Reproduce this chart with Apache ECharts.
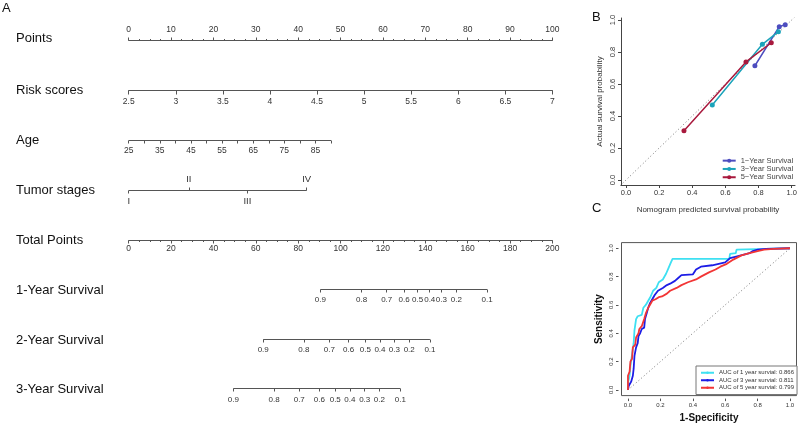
<!DOCTYPE html>
<html>
<head>
<meta charset="utf-8">
<script src="https://cdn.jsdelivr.net/npm/echarts@6.0.0/dist/echarts.min.js"></script>
<style>
html, body { margin: 0; padding: 0; background: #fff; }
#main { width: 798px; height: 425px; }
</style>
</head>
<body>
<div id="main"></div>
<script>
// ---------- data: nomogram (A) ----------
var rowNames = ['Points', 'Risk scores', 'Age', 'Tumor stages', 'Total Points',
                '1-Year Survival', '2-Year Survival', '3-Year Survival'];
var riskMin = 2.5, riskMax = 7;
var ageTicks = [25, 30, 35, 40, 45, 50, 55, 60, 65, 70, 75, 80, 85, 90];
var ageLabels = [25, 35, 45, 55, 65, 75, 85];
var agePointsAt90 = 47.75;          // points given to the oldest age (90)
var stageNames = ['I', 'II', 'III', 'IV'];
var stagePoints = [0, 14.2, 28.0, 42.0];
var survProbs = [0.9, 0.8, 0.7, 0.6, 0.5, 0.4, 0.3, 0.2, 0.1];
var surv1Total = [90.5, 109.9, 121.8, 130.0, 136.4, 142.1, 147.6, 154.7, 169.2];
var surv2Total = [63.5, 82.7, 94.7, 103.8, 111.7, 118.6, 125.4, 132.4, 142.2];
var surv3Total = [49.4, 68.6, 80.5, 90.0, 97.5, 104.4, 111.4, 118.3, 128.2];

// ---------- data: calibration (B) ----------
var calTicks = [0, 0.2, 0.4, 0.6, 0.8, 1.0];
var calNames = ['1\u2212Year Survival', '3\u2212Year Survival', '5\u2212Year Survival'];
var cal1Pred = [0.778, 0.925, 0.961], cal1Obs = [0.714, 0.958, 0.971];
var cal3Pred = [0.521, 0.823, 0.920], cal3Obs = [0.469, 0.848, 0.927];
var cal5Pred = [0.350, 0.724, 0.877], cal5Obs = [0.308, 0.738, 0.858];

// ---------- data: ROC (C) ----------
var rocTicks = [0, 0.2, 0.4, 0.6, 0.8, 1.0];
var aucYears = [1, 3, 5];
var aucValues = [0.866, 0.811, 0.799];
var roc1Fpr = [0, 0, 0.01, 0.015, 0.025, 0.035, 0.04, 0.05, 0.06, 0.085, 0.095, 0.11, 0.125, 0.14, 0.155, 0.175, 0.19, 0.215, 0.235, 0.25, 0.265, 0.275, 0.625, 0.63, 0.665, 0.67, 0.85, 1];
var roc1Tpr = [0, 0.05, 0.1, 0.17, 0.25, 0.33, 0.42, 0.5, 0.52, 0.53, 0.58, 0.6, 0.63, 0.66, 0.7, 0.72, 0.76, 0.78, 0.82, 0.86, 0.9, 0.925, 0.925, 0.96, 0.965, 0.99, 0.995, 1];
var roc3Fpr = [0, 0.005, 0.015, 0.02, 0.03, 0.035, 0.04, 0.05, 0.06, 0.065, 0.075, 0.085, 0.1, 0.105, 0.115, 0.125, 0.135, 0.15, 0.165, 0.185, 0.215, 0.24, 0.26, 0.29, 0.31, 0.33, 0.4, 0.42, 0.45, 0.52, 0.6, 0.63, 0.68, 0.75, 0.77, 0.8, 0.85, 1];
var roc3Tpr = [0, 0.03, 0.04, 0.06, 0.1, 0.15, 0.24, 0.3, 0.33, 0.38, 0.4, 0.43, 0.44, 0.5, 0.54, 0.58, 0.61, 0.64, 0.67, 0.7, 0.72, 0.74, 0.75, 0.77, 0.79, 0.81, 0.815, 0.85, 0.87, 0.88, 0.9, 0.93, 0.945, 0.965, 0.98, 0.99, 0.995, 1];
var roc5Fpr = [0, 0, 0.01, 0.015, 0.025, 0.03, 0.045, 0.05, 0.065, 0.07, 0.085, 0.1, 0.11, 0.125, 0.135, 0.15, 0.17, 0.19, 0.21, 0.24, 0.26, 0.3, 0.33, 0.37, 0.42, 0.45, 0.5, 0.54, 0.57, 0.61, 0.65, 0.7, 0.75, 0.8, 0.84, 0.9, 1];
var roc5Tpr = [0, 0.1, 0.13, 0.2, 0.22, 0.3, 0.32, 0.37, 0.4, 0.43, 0.45, 0.5, 0.54, 0.58, 0.6, 0.63, 0.64, 0.655, 0.66, 0.68, 0.7, 0.72, 0.74, 0.76, 0.78, 0.8, 0.83, 0.85, 0.87, 0.89, 0.92, 0.95, 0.965, 0.98, 0.99, 0.995, 1];

// ---------- layout ----------
var FONT = '"Liberation Sans", Arial, Helvetica, sans-serif';
var nomoLine = '#555';
var nomoLeft = 128.7, nomoWidth = 423.7;
var rowAxisY = [40.5, 90.5, 140.5, 190.5, 240.5, 289.5, 339.5, 388.5];
var rowLabelY = [39.5, 91.5, 141.5, 191.5, 241.5, 291, 341, 390];
var calColors = ['#4d4dbf', '#1ba3ba', '#a8193d'];
var rocColors = ['#3ee0f2', '#1d1de6', '#f23535'];

function zip(a, b) { return a.map(function (v, i) { return [v, b[i]]; }); }

var grids = [], xAxes = [], yAxes = [], series = [];

// one nomogram row = one thin grid whose top (or bottom) edge is the scale line
function addRow(axisY, pos, min, max, o) {
  var idx = grids.length;
  grids.push({
    left: nomoLeft, width: nomoWidth, height: 10,
    top: pos === 'top' ? axisY : axisY - 10,
    containLabel: false, outerBoundsMode: 'none'
  });
  xAxes.push({
    gridIndex: idx, type: 'value', position: pos, min: min, max: max, interval: o.interval,
    axisLine: { show: !!o.line, onZero: false, lineStyle: { color: nomoLine, width: 1 } },
    axisTick: { show: true, length: o.tickLen || 3, customValues: o.ticks,
                lineStyle: { color: nomoLine, width: 1 } },
    minorTick: { show: !!o.minor, splitNumber: o.minor || 5, length: 1.5,
                 lineStyle: { color: nomoLine, width: 1 } },
    axisLabel: { fontSize: o.fontSize || 8.5, color: '#333', margin: o.margin || 5,
                 fontFamily: FONT, customValues: o.labels, formatter: o.formatter },
    splitLine: { show: false }, minorSplitLine: { show: false }
  });
  yAxes.push({ gridIndex: idx, type: 'value', min: 0, max: 1, show: false });
  if (o.span) {
    var yv = pos === 'top' ? 1 : 0;
    series.push({
      type: 'line', xAxisIndex: idx, yAxisIndex: idx, silent: true, clip: false,
      symbol: 'none', data: [[o.span[0], yv], [o.span[1], yv]],
      lineStyle: { color: nomoLine, width: 1 }
    });
  }
  return idx;
}

// Points
addRow(rowAxisY[0], 'top', 0, 100, { line: true, interval: 10, minor: 4, margin: 6.5 });
// Risk scores
addRow(rowAxisY[1], 'bottom', riskMin, riskMax, { line: true, interval: 0.5, tickLen: 4, margin: 7 });
// Age (scale shares the points width)
addRow(rowAxisY[2], 'bottom', ageTicks[0], ageTicks[0] + (ageTicks[ageTicks.length - 1] - ageTicks[0]) * 100 / agePointsAt90,
  { ticks: ageTicks, labels: ageLabels, span: [ageTicks[0], ageTicks[ageTicks.length - 1]], margin: 6 });
// Tumor stages: II, IV above ; I, III below
var stUp = stagePoints.filter(function (v, i) { return i % 2 === 1; });
var stDown = stagePoints.filter(function (v, i) { return i % 2 === 0; });
function stageLabel(v) { return stageNames[stagePoints.indexOf(v)] || ''; }
addRow(rowAxisY[3], 'top', 0, 100, { ticks: stUp, labels: stUp, formatter: stageLabel, tickLen: 3, margin: 6.5,
  span: [stagePoints[0], stagePoints[stagePoints.length - 1]], fontSize: 9.5 });
addRow(rowAxisY[3], 'bottom', 0, 100, { ticks: stDown, labels: stDown, formatter: stageLabel, tickLen: 3, margin: 5.5, fontSize: 9.5 });
// Total points
addRow(rowAxisY[4], 'bottom', 0, 200, { line: true, interval: 20, minor: 4, margin: 3.5 });
// Survival scales
[surv1Total, surv2Total, surv3Total].forEach(function (tot, k) {
  addRow(rowAxisY[5 + k], 'bottom', 0, 200, {
    ticks: tot, labels: tot, span: [tot[0], tot[tot.length - 1]], margin: k === 2 ? 7 : 6, fontSize: 8,
    formatter: function (v) { var i = tot.indexOf(v); return i >= 0 ? survProbs[i].toFixed(1) : ''; }
  });
});

// ---------- B: calibration ----------
var gB = grids.length;
grids.push({ left: 621, top: 18, width: 174, height: 167, containLabel: false, outerBoundsMode: 'none' });
xAxes.push({
  gridIndex: gB, type: 'value', min: -0.03, max: 1.02,
  axisLine: { show: true, onZero: false, lineStyle: { color: '#444', width: 1 } },
  axisTick: { show: true, length: 3, customValues: calTicks, lineStyle: { color: '#444' } },
  axisLabel: { customValues: calTicks, formatter: function (v) { return v.toFixed(1); },
               fontSize: 7.5, color: '#333', margin: 4, fontFamily: FONT },
  splitLine: { show: false },
  name: 'Nomogram predicted survival probability', nameLocation: 'middle', nameGap: 21,
  nameTextStyle: { fontSize: 8, color: '#333', fontFamily: FONT }
});
yAxes.push({
  gridIndex: gB, type: 'value', min: -0.031, max: 1.0125,
  axisLine: { show: true, onZero: false, lineStyle: { color: '#444', width: 1 } },
  axisTick: { show: true, length: 3, customValues: calTicks, lineStyle: { color: '#444' } },
  axisLabel: { customValues: calTicks, formatter: function (v) { return v.toFixed(1); },
               rotate: 90, fontSize: 7.5, color: '#333', margin: 4, fontFamily: FONT },
  splitLine: { show: false },
  name: 'Actual survival probability', nameLocation: 'middle', nameGap: 17, nameRotate: 90,
  nameTextStyle: { fontSize: 8, color: '#333', fontFamily: FONT }
});
series.push({
  type: 'line', xAxisIndex: gB, yAxisIndex: gB, silent: true, symbol: 'none',
  data: [[-0.05, -0.05], [1.05, 1.05]],
  lineStyle: { color: '#777', width: 1, type: [1, 2.5] }
});
[[cal1Pred, cal1Obs], [cal3Pred, cal3Obs], [cal5Pred, cal5Obs]].forEach(function (d, k) {
  series.push({
    type: 'line', name: calNames[k], xAxisIndex: gB, yAxisIndex: gB,
    data: zip(d[0], d[1]), symbol: 'circle', symbolSize: 5,
    lineStyle: { color: calColors[k], width: 1.5 }, itemStyle: { color: calColors[k] }
  });
});

// ---------- C: ROC ----------
var gC = grids.length;
var rocNames = aucYears.map(function (y, i) { return 'AUC of ' + y + ' year survial: ' + aucValues[i].toFixed(3); });
grids.push({ left: 621.5, top: 242.6, width: 175, height: 153, show: true, borderColor: '#555',
             borderWidth: 1, backgroundColor: 'transparent', containLabel: false, outerBoundsMode: 'none' });
xAxes.push({
  gridIndex: gC, type: 'value', min: -0.04, max: 1.04, offset: 3,
  axisLine: { show: false, onZero: false },
  axisTick: { show: true, length: 2.5, customValues: rocTicks, lineStyle: { color: '#555' } },
  axisLabel: { customValues: rocTicks, formatter: function (v) { return v.toFixed(1); },
               fontSize: 6, color: '#333', margin: 4, fontFamily: FONT },
  splitLine: { show: false },
  name: '1-Specificity', nameLocation: 'middle', nameGap: 15,
  nameTextStyle: { fontSize: 10, fontWeight: 'bold', color: '#111', fontFamily: FONT }
});
yAxes.push({
  gridIndex: gC, type: 'value', min: -0.04, max: 1.04, offset: 3,
  axisLine: { show: false, onZero: false },
  axisTick: { show: true, length: 2.5, customValues: rocTicks, lineStyle: { color: '#555' } },
  axisLabel: { customValues: rocTicks, formatter: function (v) { return v.toFixed(1); },
               rotate: 90, fontSize: 6, color: '#333', margin: 4, fontFamily: FONT },
  splitLine: { show: false },
  name: 'Sensitivity', nameLocation: 'middle', nameGap: 14, nameRotate: 90,
  nameTextStyle: { fontSize: 10, fontWeight: 'bold', color: '#111', fontFamily: FONT }
});
series.push({
  type: 'line', xAxisIndex: gC, yAxisIndex: gC, silent: true, symbol: 'none',
  data: [[0, 0], [1, 1]],
  lineStyle: { color: '#777', width: 1, type: [1, 2.5] }
});
[[roc1Fpr, roc1Tpr], [roc3Fpr, roc3Tpr], [roc5Fpr, roc5Tpr]].forEach(function (d, k) {
  series.push({
    type: 'line', name: rocNames[k], xAxisIndex: gC, yAxisIndex: gC,
    data: zip(d[0], d[1]), symbol: 'none',
    lineStyle: { color: rocColors[k], width: 1.8 }, itemStyle: { color: rocColors[k] }
  });
});

// ---------- text ----------
var graphics = rowNames.map(function (n, i) {
  return { type: 'text', left: 16, top: rowLabelY[i] - 7.5, silent: true,
           style: { text: n, fontSize: 13, fill: '#111', fontFamily: FONT } };
});
graphics.push({ type: 'text', left: 2, top: 2, style: { text: 'A', fontSize: 13, fill: '#111', fontFamily: FONT } });
graphics.push({ type: 'text', left: 592, top: 11, style: { text: 'B', fontSize: 13, fill: '#111', fontFamily: FONT } });
graphics.push({ type: 'text', left: 592, top: 202, style: { text: 'C', fontSize: 13, fill: '#111', fontFamily: FONT } });

var chart = echarts.init(document.getElementById('main'));
chart.setOption({
  animation: false,
  backgroundColor: '#fff',
  grid: grids,
  xAxis: xAxes,
  yAxis: yAxes,
  legend: [{
    data: calNames, orient: 'vertical', left: 721.7, top: 156.5,
    itemWidth: 13, itemHeight: 5, itemGap: 0, padding: 0,
    textStyle: { fontSize: 7.5, lineHeight: 8.3, color: '#444', fontFamily: FONT }
  }, {
    data: rocNames, orient: 'vertical', left: 696, top: 366,
    itemWidth: 13, itemHeight: 3, itemGap: 0, padding: [3, 3, 3, 4],
    borderColor: '#777', borderWidth: 1, backgroundColor: '#fff',
    textStyle: { fontSize: 6, lineHeight: 7.5, color: '#333', fontFamily: FONT }
  }],
  graphic: graphics,
  series: series
});
</script>
</body>
</html>
